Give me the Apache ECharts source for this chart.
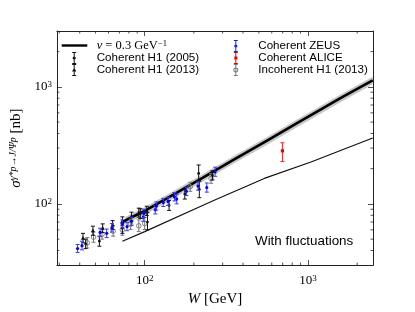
<!DOCTYPE html>
<html><head><meta charset="utf-8">
<script src="https://cdn.jsdelivr.net/npm/echarts@6/dist/echarts.min.js"></script>
<style>html,body{margin:0;padding:0;background:#fff}#c{width:415px;height:312px}</style>
</head><body><div id="c"></div>
<script>
// ---------- data ----------
const X_MIN = 29, X_MAX = 2500, Y_MIN = 30, Y_MAX = 3000;
const xMajor = [100, 1000];
const yMajor = [100, 1000];
const xMinor = [30, 40, 50, 60, 70, 80, 90, 200, 300, 400, 500, 600, 700, 800, 900, 2000];
const yMinor = [40, 50, 60, 70, 80, 90, 200, 300, 400, 500, 600, 700, 800, 900, 2000];

const modelW = [73, 85, 100, 150, 226, 360, 572, 867, 1200, 1580, 2000, 2490];
const modelV = [70, 78, 87, 120, 167, 244, 352, 494, 641, 800, 959, 1135];
const bandW  = [76, 85, 100, 150, 226, 360, 572, 867, 1200, 1580, 2000, 2490];
const bandLo = [66.6, 72.2, 80.5, 111, 154.5, 225.7, 325.6, 457, 593, 740, 887, 1050];
const bandHi = [77.4, 83.9, 93.5, 129, 179.5, 262.3, 378.4, 531, 689, 860, 1031, 1220];
const flucW  = [73, 100, 226, 273, 540, 1043, 1655, 2490];
const flucV  = [48, 58, 97, 109, 165, 228, 293, 366];

// [W, value, low, high]
const zeus = [
  [38.8, 41.6, 38.5, 45], [41.3, 44, 40.5, 48], [53.3, 57, 52.5, 62], [58.5, 56, 51.5, 61],
  [63, 62.5, 57.5, 68], [73, 67.6, 62.5, 73], [78, 64, 59, 69.5], [83, 71, 65.5, 77],
  [98, 77, 71, 83.5], [99, 83, 76.5, 90], [116, 89, 82, 96.5], [118, 96, 88.5, 104],
  [130, 103, 95, 111.5], [139, 105, 97, 114], [152, 115, 106, 125], [157, 110, 100, 121],
  [180, 128, 118, 139], [212, 142, 131, 154], [240, 138, 126, 151], [270, 188, 172, 206]
];
const h1_2005 = [
  [43.5, 45.5, 41.5, 50], [52.8, 48, 43.5, 53], [73, 62, 56, 68.5], [94, 82.5, 75, 91],
  [104, 70, 60, 84], [141, 97, 88, 107], [176, 121, 110, 133], [214, 182, 158, 215],
  [216, 133, 113, 156], [260, 175, 160, 192]
];
const h1_2013 = [
  [41.9, 51, 46.5, 56], [48.2, 59, 54, 64.5], [55.3, 62, 57, 67.5], [63.6, 66, 60.5, 72],
  [73, 71, 65, 77.5], [83, 78, 71.5, 85], [92, 84, 77, 92], [103, 87, 79.5, 95.5]
];
const incoh = [
  [44.5, 46.5, 42, 51.5], [48.6, 52, 47, 57.5], [54.8, 55, 50, 61], [64.1, 58.5, 53, 65],
  [73, 60, 54, 67], [82, 67, 60.5, 74], [92, 65, 58, 73], [100, 68, 60.5, 76.5],
  [190, 140, 128, 153], [255, 165, 150, 181]
];
const alice = [[697, 284, 230, 333]];

const LINE_NAME = 'v = 0.3 GeV⁻¹';
const annotation = 'With fluctuations';

// ---------- rendering ----------
const SERIF = 'Liberation Serif', SANS = 'Liberation Sans';
const chart = echarts.init(document.getElementById('c'), null, {renderer: 'canvas'});

function errRender(marker, mColor, eColor, size) {
  return function (params, api) {
    const x = api.value(0);
    const p = api.coord([x, api.value(1)]);
    const lo = api.coord([x, api.value(2)]);
    const hi = api.coord([x, api.value(3)]);
    const cw = 2;
    const es = {stroke: eColor, lineWidth: 1};
    const ch = [
      {type: 'line', shape: {x1: p[0], y1: lo[1], x2: p[0], y2: hi[1]}, style: es},
      {type: 'line', shape: {x1: p[0] - cw, y1: lo[1], x2: p[0] + cw, y2: lo[1]}, style: es},
      {type: 'line', shape: {x1: p[0] - cw, y1: hi[1], x2: p[0] + cw, y2: hi[1]}, style: es}
    ];
    if (marker === 'circle') ch.push({type: 'circle', shape: {cx: p[0], cy: p[1], r: size}, style: {fill: mColor}});
    else if (marker === 'open') ch.push({type: 'circle', shape: {cx: p[0], cy: p[1], r: size}, style: {fill: 'none', stroke: mColor, lineWidth: 0.9}});
    else if (marker === 'triangle') ch.push({type: 'polygon', shape: {points: [[p[0], p[1] - size], [p[0] + size * 0.95, p[1] + size * 0.7], [p[0] - size * 0.95, p[1] + size * 0.7]]}, style: {fill: mColor}});
    else if (marker === 'square') ch.push({type: 'rect', shape: {x: p[0] - size, y: p[1] - size, width: 2 * size, height: 2 * size}, style: {fill: mColor}});
    return {type: 'group', children: ch};
  };
}

function bandRender(params, api) {
  if (params.dataIndex !== 0) return null;
  const pts = [];
  for (let i = 0; i < bandW.length; i++) pts.push(api.coord([bandW[i], bandHi[i]]));
  for (let i = bandW.length - 1; i >= 0; i--) pts.push(api.coord([bandW[i], bandLo[i]]));
  return {type: 'polygon', shape: {points: pts}, style: {fill: '#c6c6c6'}};
}
const TS = {stroke: '#222', lineWidth: 0.8};
function xTickRender(params, api) {
  const v = api.value(0);
  const b = api.coord([v, Y_MIN]), t = api.coord([v, Y_MAX]);
  return {type: 'group', children: [
    {type: 'line', shape: {x1: b[0], y1: b[1], x2: b[0], y2: b[1] - 2.5}, style: TS},
    {type: 'line', shape: {x1: t[0], y1: t[1], x2: t[0], y2: t[1] + 2.5}, style: TS}
  ]};
}
function yTickRender(params, api) {
  const v = api.value(1);
  const l = api.coord([X_MIN, v]), r = api.coord([X_MAX, v]);
  return {type: 'group', children: [
    {type: 'line', shape: {x1: l[0], y1: l[1], x2: l[0] + 2.5, y2: l[1]}, style: TS},
    {type: 'line', shape: {x1: r[0], y1: r[1], x2: r[0] - 2.5, y2: r[1]}, style: TS}
  ]};
}

// legend icons: 30x12 boxes (corner points fix the bounding box)
const BOX = 'M0 0 L0 0 M30 12 L30 12 ';
const BAR = 'M10.5 0 L14.5 0 L14.5 1 L13 1 L13 11 L14.5 11 L14.5 12 L10.5 12 L10.5 11 L12 11 L12 1 L10.5 1 Z ';
const ICON_LINE = 'path://' + BOX + 'M0 4.8 L25.6 4.8 L25.6 7.2 L0 7.2 Z';
const ICON_DOT = 'path://' + BOX + BAR + 'M14.1 6 A1.6 1.6 0 1 1 10.9 6 A1.6 1.6 0 1 1 14.1 6 Z';
const ICON_TRI = 'path://' + BOX + BAR + 'M12.5 3.8 L14.7 7.4 L10.3 7.4 Z';
const ICON_SQ = 'path://' + BOX + BAR + 'M11 4.5 L14 4.5 L14 7.5 L11 7.5 Z';
const ICON_OPEN = 'path://' + BOX + BAR + 'M15 6 A2.5 2.5 0 1 1 10 6 A2.5 2.5 0 1 1 15 6 Z M14.1 6 A1.6 1.6 0 1 0 10.9 6 A1.6 1.6 0 1 0 14.1 6 Z';

const legendText = {
  fontFamily: SANS, fontSize: 11.6, color: '#000', lineHeight: 12,
  rich: {
    i: {fontFamily: SERIF, fontStyle: 'italic', fontSize: 12.5, lineHeight: 12, verticalAlign: 'middle'},
    m: {fontFamily: SERIF, fontSize: 12.5, lineHeight: 12, verticalAlign: 'middle'},
    s: {fontFamily: SERIF, fontSize: 8.5, lineHeight: 4, verticalAlign: 'top'}
  }
};
function legendFmt(name) {
  return name === LINE_NAME ? '{i|v}{m| = 0.3 GeV}{s|−1}' : name;
}
function isPow10(v) { const l = Math.log10(v); return Math.abs(l - Math.round(l)) < 1e-6; }
const tickRich = {
  b: {fontFamily: SERIF, fontSize: 13, color: '#000', lineHeight: 13, verticalAlign: 'middle'},
  s: {fontFamily: SERIF, fontSize: 9, color: '#000', lineHeight: 4, verticalAlign: 'top'}
};
function tickFmt(v) {
  if (!isPow10(v)) return '';
  return '{b|10}{s|' + Math.round(Math.log10(v)) + '}';
}
const axisLine = {show: true, lineStyle: {color: '#222', width: 1}};
const axisTick = {show: true, inside: true, length: 5, lineStyle: {color: '#222', width: 0.8}};

const option = {
  animation: false,
  backgroundColor: '#fff',
  grid: {left: 52, right: 42, top: 31, bottom: 41},
  xAxis: [
    {type: 'log', logBase: 10, min: X_MIN, max: X_MAX, position: 'bottom',
     axisLine, axisTick, splitLine: {show: false}, minorTick: {show: false},
     axisLabel: {formatter: tickFmt, rich: tickRich, margin: 9, interval: 0, showMinLabel: false, showMaxLabel: false},
     name: '{i|W}{r| [GeV]}', nameLocation: 'middle', nameGap: 19,
     nameTextStyle: {rich: {
       i: {fontFamily: SERIF, fontStyle: 'italic', fontSize: 15, color: '#000'},
       r: {fontFamily: SERIF, fontSize: 15, color: '#000'}}}},
    {type: 'log', logBase: 10, min: X_MIN, max: X_MAX, position: 'top',
     axisLine, axisTick, splitLine: {show: false}, axisLabel: {show: false}}
  ],
  yAxis: [
    {type: 'log', logBase: 10, min: Y_MIN, max: Y_MAX, position: 'left',
     axisLine, axisTick, splitLine: {show: false}, minorTick: {show: false},
     axisLabel: {formatter: tickFmt, rich: tickRich, margin: 5, interval: 0, showMinLabel: false, showMaxLabel: false},
     name: '{i|σ}{s|γ*p→J/Ψp}{r| [nb]}', nameLocation: 'middle', nameGap: 28,
     nameTextStyle: {rich: {
       i: {fontFamily: SERIF, fontStyle: 'italic', fontSize: 15, color: '#000', lineHeight: 16, verticalAlign: 'middle'},
       s: {fontFamily: SERIF, fontStyle: 'italic', fontSize: 10, color: '#000', lineHeight: 4, verticalAlign: 'top'},
       r: {fontFamily: SERIF, fontSize: 15, color: '#000', lineHeight: 16, verticalAlign: 'middle'}}}},
    {type: 'log', logBase: 10, min: Y_MIN, max: Y_MAX, position: 'right',
     axisLine, axisTick, splitLine: {show: false}, axisLabel: {show: false}}
  ],
  legend: [
    {orient: 'vertical', left: 61.7, top: 39, padding: 0, itemWidth: 30, itemHeight: 12, itemGap: 0,
     selectedMode: false, itemStyle: {borderWidth: 0}, textStyle: legendText, formatter: legendFmt,
     data: [{name: LINE_NAME, icon: ICON_LINE}, {name: 'Coherent H1 (2005)', icon: ICON_DOT}, {name: 'Coherent H1 (2013)', icon: ICON_TRI}]},
    {orient: 'vertical', left: 223.3, top: 40, padding: 0, itemWidth: 30, itemHeight: 12, itemGap: 0,
     selectedMode: false, itemStyle: {borderWidth: 0}, textStyle: legendText, formatter: legendFmt,
     data: [{name: 'Coherent ZEUS', icon: ICON_DOT}, {name: 'Coherent ALICE', icon: ICON_SQ}, {name: 'Incoherent H1 (2013)', icon: ICON_OPEN}]}
  ],
  graphic: [
    {type: 'text', left: 255, top: 235, silent: true,
     style: {text: annotation, fontFamily: SANS, fontSize: 13.4, fill: '#000'}}
  ],
  series: [
    {type: 'custom', name: 'xminor', silent: true, renderItem: xTickRender, data: xMinor.map(v => [v, Y_MIN]), z: 5},
    {type: 'custom', name: 'yminor', silent: true, renderItem: yTickRender, data: yMinor.map(v => [X_MIN, v]), z: 5},
    {type: 'custom', name: 'band', silent: true, renderItem: bandRender, data: bandW.map((w, i) => [w, bandLo[i], bandHi[i]]), z: 1},
    {type: 'line', name: 'fluct', silent: true, symbol: 'none', data: flucW.map((w, i) => [w, flucV[i]]),
     lineStyle: {color: '#111', width: 1.2}, itemStyle: {color: '#111'}, z: 2},
    {type: 'line', name: LINE_NAME, silent: true, symbol: 'none', data: modelW.map((w, i) => [w, modelV[i]]),
     lineStyle: {color: '#000', width: 2.6}, itemStyle: {color: '#000'}, z: 3},
    {type: 'custom', name: 'Incoherent H1 (2013)', renderItem: errRender('open', '#777', '#777', 2.3), data: incoh, itemStyle: {color: '#777'}, z: 4},
    {type: 'custom', name: 'Coherent H1 (2005)', renderItem: errRender('circle', '#111', '#111', 1.4), data: h1_2005, itemStyle: {color: '#111'}, z: 4},
    {type: 'custom', name: 'Coherent H1 (2013)', renderItem: errRender('triangle', '#111', '#111', 2.2), data: h1_2013, itemStyle: {color: '#111'}, z: 4},
    {type: 'custom', name: 'Coherent ZEUS', renderItem: errRender('circle', '#0000ee', '#3a3aff', 1.6), data: zeus, itemStyle: {color: '#1a1aff'}, z: 4},
    {type: 'custom', name: 'Coherent ALICE', renderItem: errRender('square', '#ee0000', '#ee2222', 1.6), data: alice, itemStyle: {color: '#ee0000'}, z: 4}
  ]
};
chart.setOption(option);
</script></body></html>
